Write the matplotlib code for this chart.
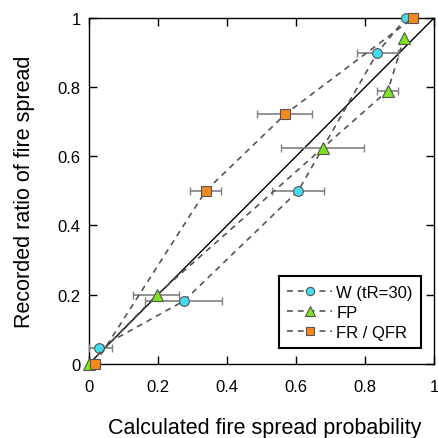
import matplotlib
matplotlib.use("agg")
import matplotlib.pyplot as plt

plt.rcParams["font.family"] = ["Liberation Sans", "DejaVu Sans"]

# W (tR=30)
w_x = [0.029, 0.275, 0.606, 0.835, 0.918]
w_y = [0.046, 0.182, 0.500, 0.899, 1.000]
w_xlo = [0.000, 0.162, 0.530, 0.777, 0.918]
w_xhi = [0.066, 0.386, 0.680, 0.896, 0.918]

# FP
fp_x = [0.000, 0.196, 0.677, 0.866, 0.913]
fp_y = [0.000, 0.199, 0.624, 0.790, 0.943]
fp_xlo = [0.000, 0.128, 0.556, 0.834, 0.913]
fp_xhi = [0.000, 0.261, 0.797, 0.895, 0.913]

# FR / QFR
fr_x = [0.017, 0.338, 0.569, 0.939]
fr_y = [0.000, 0.500, 0.722, 1.000]
fr_xlo = [0.017, 0.293, 0.487, 0.939]
fr_xhi = [0.017, 0.383, 0.646, 0.939]

series = [
    ("W (tR=30)", w_x, w_y, w_xlo, w_xhi, "o", "#46dcee", 7),
    ("FP", fp_x, fp_y, fp_xlo, fp_xhi, "^", "#7ee21e", 8),
    ("FR / QFR", fr_x, fr_y, fr_xlo, fr_xhi, "s", "#f28a1e", 7),
]

fig = plt.figure(figsize=(4.39, 4.39), dpi=100)
ax = fig.add_axes([0.203, 0.169, 0.786, 0.788])

# 1:1 line
ax.plot([0, 1], [0, 1], color="black", lw=1.0, zorder=2)

for label, x, y, lo, hi, mk, col, ms in series:
    err = [[xi - l for xi, l in zip(x, lo)], [h - xi for xi, h in zip(x, hi)]]
    ax.errorbar(x, y, xerr=err, fmt="none", ecolor="#808080", elinewidth=1.2,
                capsize=3, capthick=1.0, zorder=3, clip_on=False)
    ax.plot(x, y, linestyle=(0, (3.5, 3)), color="#555555", lw=1.2,
            marker=mk, markersize=ms, markerfacecolor=col,
            markeredgecolor="#555555", markeredgewidth=0.8,
            label=label, zorder=4, clip_on=False)

ax.set_xlim(0, 1)
ax.set_ylim(0, 1)
ticks = [0, 0.2, 0.4, 0.6, 0.8, 1]
tick_labels = ["0", "0.2", "0.4", "0.6", "0.8", "1"]
ax.set_xticks(ticks)
ax.set_xticklabels(tick_labels)
ax.set_yticks(ticks)
ax.set_yticklabels(tick_labels)
ax.tick_params(direction="in", top=True, right=True, length=6, width=1,
               labelsize=12)
ax.tick_params(axis="x", pad=11)
ax.tick_params(axis="y", pad=6)
for s in ax.spines.values():
    s.set_linewidth(1.0)

ax.set_xlabel("Calculated fire spread probability", fontsize=15.5, labelpad=14)
ax.xaxis.set_label_coords(0.51, -0.155)
ax.set_ylabel("Recorded ratio of fire spread", fontsize=15.5, labelpad=16)

leg = ax.legend(loc="lower right", bbox_to_anchor=(0.962, 0.046),
                borderaxespad=0, fontsize=12, numpoints=1, handlelength=2.7,
                markerscale=0.85, fancybox=False, framealpha=1,
                edgecolor="black", handletextpad=0.25, labelspacing=0.3,
                borderpad=0.5)
leg.get_frame().set_linewidth(1.5)

fig.savefig("out.png", dpi=100)
plt.close(fig)
